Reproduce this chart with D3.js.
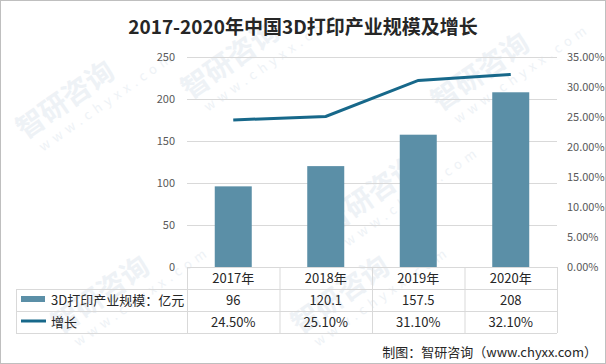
<!DOCTYPE html>
<html>
<head>
<meta charset="utf-8">
<script src="https://cdn.jsdelivr.net/npm/d3@7"></script>
<style>
  body { margin: 0; background: #fff; }
  text { font-family: "Noto Sans CJK SC", "Noto Sans", sans-serif; }
</style>
</head>
<body>
<div id="chart"></div>
<script>
// chart data
var years = ["2017年", "2018年", "2019年", "2020年"];
var scale = [96, 120.1, 157.5, 208];
var growth = [24.5, 25.1, 31.1, 32.1];
var leftTicks = [0, 50, 100, 150, 200, 250];
var rightTicks = [0, 5, 10, 15, 20, 25, 30, 35];
var seriesNames = ["3D打印产业规模：亿元", "增长"];

var width = 606, height = 364;
var plot = { left: 187, right: 557, top: 57, bottom: 267 };
var barColor = "#5b8fa7", lineColor = "#17688a", gridColor = "#d9d9d9";

var svg = d3.select("#chart").append("svg")
    .attr("width", width)
    .attr("height", height);

// faint watermark tiles
var wm = svg.append("g").attr("fill", "#eef2f6");
[[25, 140], [190, 100], [440, 112], [330, 235], [60, 335], [300, 335]].forEach(function(p) {
    var g = wm.append("g").attr("transform", "translate(" + p[0] + "," + p[1] + ") rotate(-35)");
    g.append("text").attr("font-size", 28).attr("font-weight", "bold").text("智研咨询");
    g.append("text").attr("y", 20).attr("x", 8).attr("font-size", 13).attr("letter-spacing", 5).text("www.chyxx.com");
});

// outer frame
svg.append("rect")
    .attr("x", 0.5).attr("y", 0.5)
    .attr("width", width - 1).attr("height", height - 1)
    .attr("fill", "none").attr("stroke", "#bfbfbf");

svg.append("text")
    .attr("x", 303).attr("y", 34)
    .attr("text-anchor", "middle")
    .attr("font-size", 19).attr("font-weight", "bold")
    .attr("fill", "#262626")
    .text("2017-2020年中国3D打印产业规模及增长");

var x = d3.scaleBand().domain(years).range([plot.left, plot.right]).paddingInner(0).paddingOuter(0);
var yLeft = d3.scaleLinear().domain([0, 250]).range([plot.bottom, plot.top]);
var yRight = d3.scaleLinear().domain([0, 35]).range([plot.bottom, plot.top]);

// gridlines
svg.append("g").selectAll("line")
    .data(leftTicks.slice(1))
    .enter().append("line")
    .attr("x1", plot.left).attr("x2", plot.right)
    .attr("y1", d => yLeft(d) + 0.5).attr("y2", d => yLeft(d) + 0.5)
    .attr("stroke", gridColor);

// left axis
var leftAxis = d3.axisLeft(yLeft).tickValues(leftTicks).tickSize(0).tickPadding(12);
var la = svg.append("g").attr("transform", "translate(" + plot.left + ",0)").call(leftAxis);
la.select(".domain").remove();
la.selectAll("text").attr("font-size", 11).attr("fill", "#595959");

// right axis
var rightAxis = d3.axisRight(yRight).tickValues(rightTicks).tickSize(0).tickPadding(10)
    .tickFormat(d => d.toFixed(2) + "%");
var ra = svg.append("g").attr("transform", "translate(" + plot.right + ",0)").call(rightAxis);
ra.select(".domain").remove();
ra.selectAll("text").attr("font-size", 11).attr("fill", "#595959");

// bars
var barW = 37;
svg.append("g").selectAll("rect")
    .data(scale)
    .enter().append("rect")
    .attr("x", (d, i) => x(years[i]) + x.bandwidth() / 2 - barW / 2)
    .attr("y", d => yLeft(d))
    .attr("width", barW)
    .attr("height", d => plot.bottom - yLeft(d))
    .attr("fill", barColor);

// growth line
var line = d3.line()
    .x((d, i) => x(years[i]) + x.bandwidth() / 2)
    .y(d => yRight(d));
svg.append("path")
    .datum(growth)
    .attr("d", line)
    .attr("fill", "none")
    .attr("stroke", lineColor)
    .attr("stroke-width", 3);

// data table
var rows = [plot.bottom, 289, 311, 333];
var tableLeft = 16;
var tbl = svg.append("g").attr("stroke", gridColor);
tbl.append("line").attr("x1", plot.left).attr("x2", plot.right).attr("y1", rows[0] + 0.5).attr("y2", rows[0] + 0.5);
rows.slice(1).forEach(function(r) {
    tbl.append("line").attr("x1", tableLeft).attr("x2", plot.right).attr("y1", r + 0.5).attr("y2", r + 0.5);
});
years.forEach(function(y) {
    tbl.append("line").attr("x1", x(y) + 0.5).attr("x2", x(y) + 0.5).attr("y1", rows[0]).attr("y2", rows[3]);
});
tbl.append("line").attr("x1", plot.right + 0.5).attr("x2", plot.right + 0.5).attr("y1", rows[0]).attr("y2", rows[3]);
tbl.append("line").attr("x1", tableLeft + 0.5).attr("x2", tableLeft + 0.5).attr("y1", rows[1]).attr("y2", rows[3]);

var cellText = svg.append("g").attr("font-size", 13).attr("fill", "#262626").attr("text-anchor", "middle");
years.forEach(function(y, i) {
    var cx = x(y) + x.bandwidth() / 2;
    cellText.append("text").attr("x", cx).attr("y", 283).text(y);
    cellText.append("text").attr("x", cx).attr("y", 305).text(scale[i]);
    cellText.append("text").attr("x", cx).attr("y", 327).text(growth[i].toFixed(2) + "%");
});

// legend keys
svg.append("rect").attr("x", 21).attr("y", 296).attr("width", 24).attr("height", 6).attr("fill", barColor);
svg.append("line").attr("x1", 21).attr("x2", 46).attr("y1", 321).attr("y2", 321)
    .attr("stroke", lineColor).attr("stroke-width", 3);
svg.append("text").attr("x", 51).attr("y", 305).attr("font-size", 13).attr("fill", "#262626").text(seriesNames[0]);
svg.append("text").attr("x", 51).attr("y", 327).attr("font-size", 13).attr("fill", "#262626").text(seriesNames[1]);

svg.append("text")
    .attr("x", 597).attr("y", 357)
    .attr("text-anchor", "end")
    .attr("font-size", 13).attr("fill", "#262626")
    .text("制图：智研咨询（www.chyxx.com）");
</script>
</body>
</html>
